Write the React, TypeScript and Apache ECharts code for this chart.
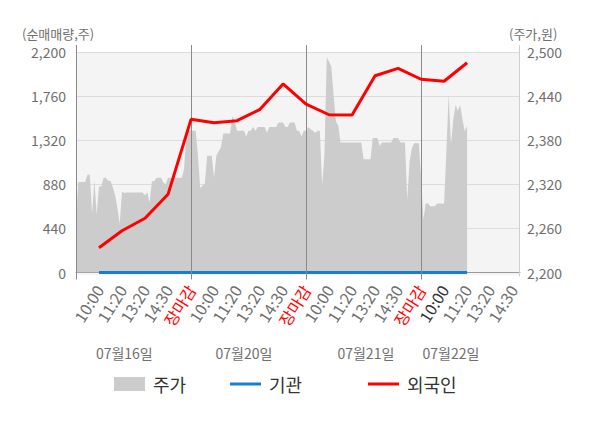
import React, { useEffect, useRef } from 'react';
import * as echarts from 'echarts';

// ---- data ----
const dayDates = ['07월16일', '07월20일', '07월21일', '07월22일'];
const dateLabelIdx = [21, 73, 126, 163];
const tickLabels = ['10:00', '11:20', '13:20', '14:30', '장마감'];
const todayTickIdx = 160;
const dayBoundaryIdx = [0, 50, 100, 150];
const totalSlots = 194;
const slotsPerLabel = 10;

const priceValues = [
  2271, 2323, 2323, 2323, 2323, 2333, 2333, 2281, 2325, 2279,
  2317, 2317, 2329, 2329, 2325, 2325, 2316, 2305, 2288, 2266,
  2310, 2308, 2309, 2309, 2309, 2309, 2309, 2309, 2309, 2309,
  2305, 2309, 2295, 2324, 2324, 2329, 2329, 2329, 2322, 2320,
  2329, 2329, 2329, 2329, 2329, 2329, 2329, 2342, 2393, 2393,
  2393, 2393, 2393, 2360, 2315, 2318, 2321, 2359, 2359, 2359,
  2329, 2359, 2365, 2370, 2389, 2389, 2389, 2389, 2413, 2405,
  2393, 2393, 2393, 2393, 2385, 2393, 2393, 2398, 2393, 2398,
  2398, 2398, 2398, 2390, 2398, 2398, 2398, 2398, 2404, 2404,
  2404, 2398, 2398, 2404, 2404, 2404, 2393, 2393, 2385, 2393,
  2393, 2398, 2395, 2393, 2390, 2393, 2393, 2319, 2360, 2493,
  2487, 2480, 2440, 2405, 2400, 2377, 2377, 2377, 2377, 2377,
  2377, 2377, 2377, 2377, 2377, 2354, 2354, 2354, 2354, 2383,
  2383, 2383, 2372, 2377, 2377, 2377, 2377, 2377, 2383, 2383,
  2383, 2377, 2377, 2377, 2299, 2351, 2369, 2376, 2376, 2376,
  2330, 2272, 2294, 2294, 2290, 2290, 2290, 2294, 2294, 2294,
  2294, 2365, 2443, 2374, 2408, 2428, 2420, 2428, 2408, 2392, 2400,
];

const flowIdx = [10, 20, 30, 40, 50, 60, 70, 80, 90, 100, 110, 120, 130, 140, 150, 160, 170];
const foreignValues = [247, 417, 541, 780, 1528, 1495, 1515, 1628, 1881, 1681, 1574, 1571, 1963, 2037, 1928, 1908, 2093];
const institutionValues = [0, 0, 0, 0, 0, 0, 0, 0, 0, 0, 0, 0, 0, 0, 0, 0, 0];

const volTicks = { min: 0, max: 2200, interval: 440 };
const priceRange = { min: 2200, max: 2500 };

const FONT = '"Noto Sans CJK KR", "Noto Sans", sans-serif';
const GRAY_TEXT = '#6f6f6f';
const RED = '#ff0000';
const BLUE = '#1a7ecf';
const AREA = '#cccccc';

function sparse(idx: number[], vals: number[]) {
  const arr: (number | null)[] = new Array(totalSlots).fill(null);
  idx.forEach((i, k) => { arr[i] = vals[k]; });
  return arr;
}

export default function App() {
  const ref = useRef<HTMLDivElement>(null);

  useEffect(() => {
    document.body.style.margin = '0';
    if (!ref.current) return;
    const chart = echarts.init(ref.current, undefined, { renderer: 'svg' });
    const categories = Array.from({ length: totalSlots }, (_, i) => `s${i}`);
    const fmt = (v: number) => v.toLocaleString('en-US');
    const legendText = { fontSize: 18, color: '#333', fontFamily: FONT, padding: [0, 0, 0, 3] };

    const option: any = {
      animation: false,
      textStyle: { fontFamily: FONT },
      grid: {
        left: 76, right: 80, top: 52, bottom: 155.5,
        show: true, backgroundColor: '#f4f4f4', borderWidth: 0,
      },
      legend: [
        { data: [{ name: '주가', icon: 'rect' }], left: 114, top: 375, padding: 0, itemWidth: 31, itemHeight: 14, textStyle: legendText },
        { data: [{ name: '기관', icon: 'rect' }], left: 230, top: 375, padding: 0, itemWidth: 31, itemHeight: 3, textStyle: legendText },
        { data: [{ name: '외국인', icon: 'rect' }], left: 368, top: 375, padding: 0, itemWidth: 31, itemHeight: 3, textStyle: legendText },
      ],
      xAxis: {
        type: 'category',
        boundaryGap: false,
        data: categories,
        offset: 3,
        axisLine: { show: true, lineStyle: { color: '#999', width: 1 } },
        axisTick: { show: false },
        splitLine: { show: false },
        axisLabel: {
          interval: (index: number) => index > 0 && index % slotsPerLabel === 0,
          rotate: 58,
          margin: 11,
          fontSize: 16,
          color: GRAY_TEXT,
          fontFamily: FONT,
          formatter: (_v: string, index: number) => {
            const t = tickLabels[(index / slotsPerLabel - 1) % tickLabels.length];
            if (t === '장마감') return `{close|${t}}`;
            if (index === todayTickIdx) return `{today|${t}}`;
            return t;
          },
          rich: {
            close: { color: RED, fontSize: 16, fontFamily: FONT },
            today: { color: '#333', fontSize: 16, fontFamily: FONT },
          },
        },
      },
      yAxis: [
        {
          type: 'value',
          min: volTicks.min, max: volTicks.max, interval: volTicks.interval,
          axisLine: { show: false },
          axisTick: { show: false },
          axisLabel: { color: GRAY_TEXT, fontSize: 14, margin: 10, formatter: fmt, fontFamily: FONT },
          splitLine: { show: true, lineStyle: { color: '#dcdcdc', width: 1 } },
        },
        {
          type: 'value',
          min: priceRange.min, max: priceRange.max,
          alignTicks: true,
          axisLine: { show: false },
          axisTick: { show: false },
          axisLabel: { color: GRAY_TEXT, fontSize: 14, margin: 7, formatter: fmt, fontFamily: FONT },
          splitLine: { show: false },
        },
      ],
      series: [
        {
          name: '주가', type: 'line', yAxisIndex: 1, data: priceValues,
          symbol: 'none', showSymbol: false, color: AREA,
          lineStyle: { width: 0, color: AREA },
          areaStyle: { color: AREA, opacity: 1 },
          z: 1,
        },
        {
          name: '기관', type: 'line', yAxisIndex: 0, data: sparse(flowIdx, institutionValues),
          connectNulls: true, symbol: 'none', showSymbol: false, color: BLUE,
          lineStyle: { width: 3, color: BLUE }, z: 3,
        },
        {
          name: '외국인', type: 'line', yAxisIndex: 0, data: sparse(flowIdx, foreignValues),
          connectNulls: true, symbol: 'none', showSymbol: false, color: RED,
          lineStyle: { width: 3, color: RED }, z: 5,
        },
      ],
    };
    chart.setOption(option);

    const gx = (i: number) => chart.convertToPixel({ xAxisIndex: 0 }, i) as number;
    const top = chart.convertToPixel({ yAxisIndex: 0 }, volTicks.max) as number;
    const bottom = chart.convertToPixel({ yAxisIndex: 0 }, volTicks.min) as number;
    const xLeft = gx(0);
    const xRight = gx(totalSlots - 1);

    const graphics: any[] = [];
    graphics.push({
      type: 'rect', z: 0, silent: true,
      shape: { x: xLeft, y: bottom, width: xRight - xLeft, height: 2.5 },
      style: { fill: '#f4f4f4' },
    });
    dayBoundaryIdx.forEach((i) => {
      const x = Math.round(gx(i)) + 0.5;
      graphics.push({
        type: 'line', z: 4, silent: true,
        shape: { x1: x, y1: top - 7, x2: x, y2: bottom + 7 },
        style: { stroke: '#8a8a8a', lineWidth: 1 },
      });
    });
    const xr = Math.round(xRight) - 0.5;
    graphics.push({
      type: 'line', z: 4, silent: true,
      shape: { x1: xr, y1: top - 7, x2: xr, y2: bottom + 4 },
      style: { stroke: '#cfcfcf', lineWidth: 1 },
    });
    graphics.push({
      type: 'text', z: 4, silent: true, x: 22, y: top - 19,
      style: { text: '(순매매량,주)', fontSize: 13, fontFamily: FONT, fill: GRAY_TEXT, align: 'left', verticalAlign: 'middle' },
    });
    graphics.push({
      type: 'text', z: 4, silent: true, x: xRight - 11, y: top - 19,
      style: { text: '(주가,원)', fontSize: 13, fontFamily: FONT, fill: GRAY_TEXT, align: 'left', verticalAlign: 'middle' },
    });
    dayDates.forEach((d, k) => {
      graphics.push({
        type: 'text', z: 4, silent: true, x: gx(dateLabelIdx[k]), y: 353,
        style: { text: d, fontSize: 14, fontFamily: FONT, fill: GRAY_TEXT, align: 'center', verticalAlign: 'middle' },
      });
    });
    chart.setOption({ graphic: graphics });

    return () => chart.dispose();
  }, []);

  return <div ref={ref} style={{ width: 600, height: 428 }} />;
}
